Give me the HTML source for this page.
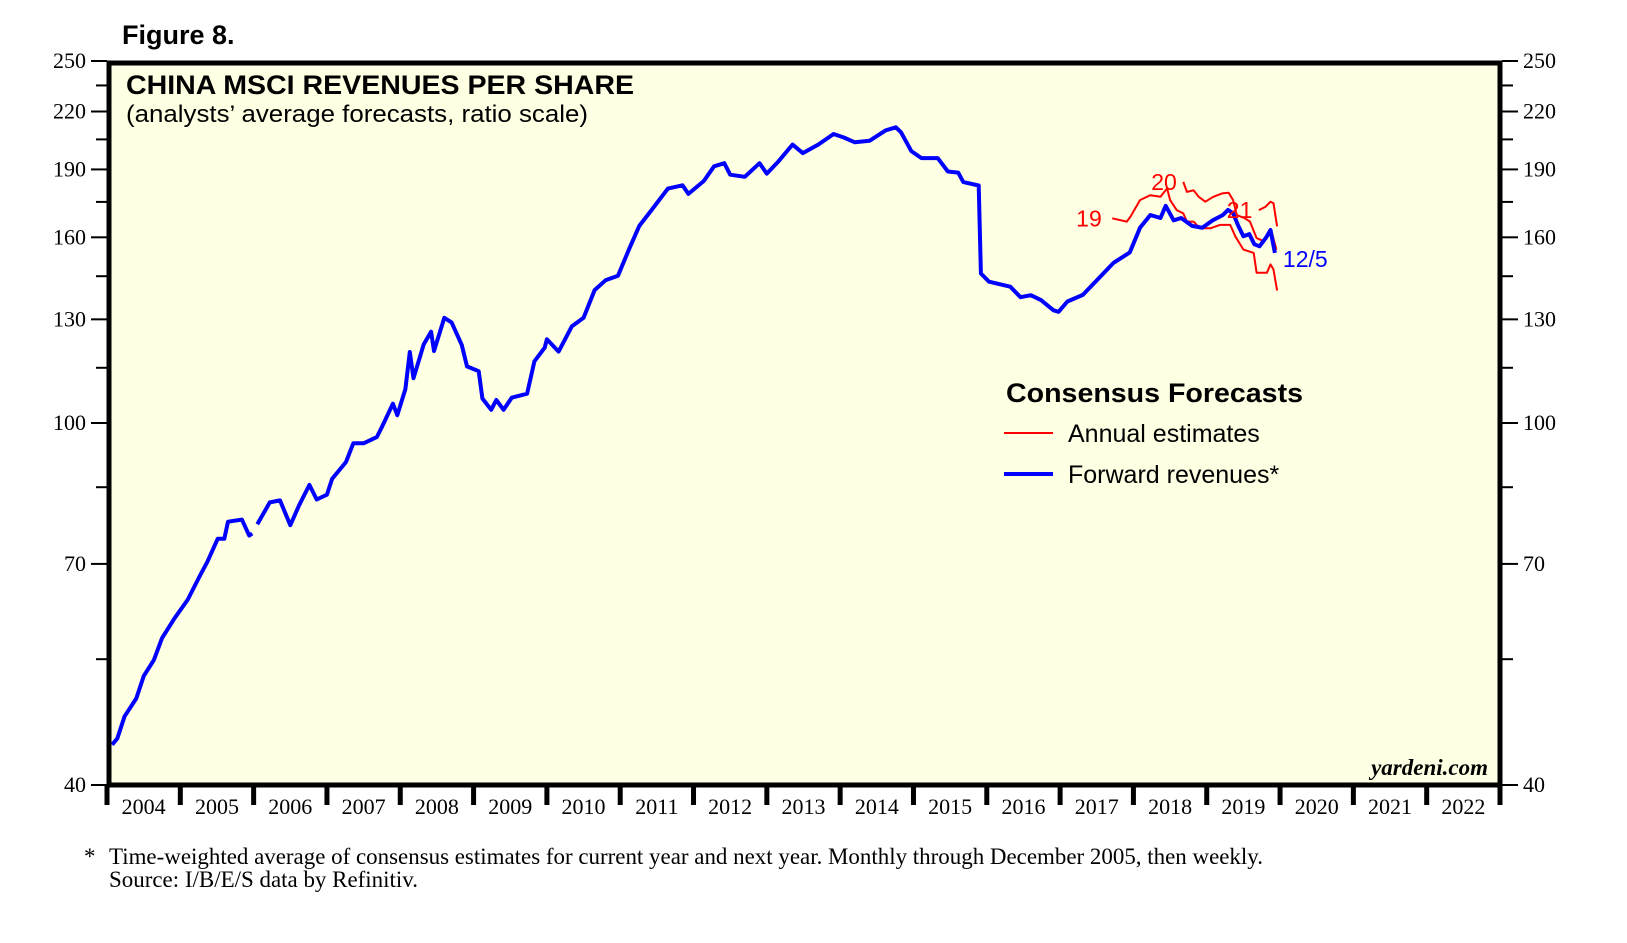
<!DOCTYPE html>
<html><head><meta charset="utf-8"><style>
html,body{margin:0;padding:0;background:#fff;}
svg{display:block;}
</style></head><body>
<svg id="chart" width="1627" height="943" xmlns="http://www.w3.org/2000/svg" font-family="Liberation Sans, sans-serif">
<text x="122" y="44" font-size="27" font-weight="bold">Figure 8.</text>
<rect x="109" y="63" width="1391" height="722" fill="#ffffe3"/>
<g id="grid"></g>
<g id="series"></g>
<rect x="109" y="63" width="1391" height="722" fill="none" stroke="#000" stroke-width="5"/>
<text x="126" y="94" font-size="27" font-weight="bold" textLength="508" lengthAdjust="spacingAndGlyphs">CHINA MSCI REVENUES PER SHARE</text>
<text x="126" y="122" font-size="24" textLength="462" lengthAdjust="spacingAndGlyphs">(analysts’ average forecasts, ratio scale)</text>
<g>
<text x="1006" y="402" font-size="27" font-weight="bold" textLength="297" lengthAdjust="spacingAndGlyphs">Consensus Forecasts</text>
<line x1="1004" y1="433" x2="1053" y2="433" stroke="#f00" stroke-width="2"/>
<text x="1068" y="442" font-size="25">Annual estimates</text>
<line x1="1004" y1="474" x2="1053" y2="474" stroke="#00f" stroke-width="4"/>
<text x="1068" y="483" font-size="25">Forward revenues*</text>
</g>
<text x="1488" y="775" font-size="23" font-style="italic" font-weight="bold" font-family="Liberation Serif, serif" text-anchor="end">yardeni.com</text>
<g font-family="Liberation Serif, serif" font-size="23">
<text x="84" y="864">*</text>
<text x="109" y="864" textLength="1154" lengthAdjust="spacingAndGlyphs">Time-weighted average of consensus estimates for current year and next year. Monthly through December 2005, then weekly.</text>
<text x="109" y="887" textLength="309" lengthAdjust="spacingAndGlyphs">Source: I/B/E/S data by Refinitiv.</text>
</g>
</svg>
<script>
const yTicksMajor=[250,220,190,160,130,100,70,40];
const yTicksMinor=[235,205,175,145,115,85,55];
const years=[2004,2005,2006,2007,2008,2009,2010,2011,2012,2013,2014,2015,2016,2017,2018,2019,2020,2021,2022];
const blueA=[[2004.07,44.3],[2004.14,45],[2004.24,47.6],[2004.4,49.8],[2004.5,52.7],[2004.64,54.9],[2004.75,58],[2004.92,61],[2005.1,63.9],[2005.27,68],[2005.37,70.4],[2005.51,74.6],[2005.6,74.6],[2005.65,77.9],[2005.84,78.3],[2005.94,75.2],[2005.98,75.6]];
const blueB=[[2006.05,77.4],[2006.22,81.8],[2006.36,82.2],[2006.5,77.2],[2006.62,81.2],[2006.76,85.5],[2006.86,82.4],[2007.0,83.4],[2007.07,86.8],[2007.26,90.6],[2007.36,95],[2007.5,95],[2007.68,96.5],[2007.75,99],[2007.9,105],[2007.96,102],[2008.07,109],[2008.13,119.7],[2008.18,112],[2008.32,122],[2008.42,126],[2008.46,120],[2008.6,130.5],[2008.7,129],[2008.84,121.8],[2008.91,115.4],[2009.07,114],[2009.12,106.4],[2009.24,103.4],[2009.31,106],[2009.41,103.4],[2009.52,106.6],[2009.73,107.7],[2009.83,116.9],[2009.97,121],[2010.0,123.6],[2010.16,119.8],[2010.34,127.7],[2010.5,130.5],[2010.65,140],[2010.8,143.5],[2010.97,145.2],[2011.12,155.2],[2011.26,164.7],[2011.43,171.5],[2011.65,181],[2011.85,182.5],[2011.93,178.6],[2012.14,184.5],[2012.28,191.5],[2012.42,193],[2012.5,187.5],[2012.7,186.5],[2012.9,193],[2013.0,188],[2013.16,194],[2013.35,202.3],[2013.49,198],[2013.7,202.3],[2013.91,207.8],[2014.05,206],[2014.2,203.5],[2014.4,204.3],[2014.62,209.7],[2014.76,211.4],[2014.83,208.7],[2014.97,199],[2015.11,195.5],[2015.33,195.5],[2015.47,189],[2015.61,188.5],[2015.68,184],[2015.89,182.4],[2015.92,146],[2016.03,143],[2016.32,141.2],[2016.46,137.5],[2016.6,138.2],[2016.74,136.5],[2016.91,133],[2016.98,132.5],[2017.1,136],[2017.31,138.3],[2017.52,144],[2017.73,150],[2017.95,154],[2018.09,163.9],[2018.23,169.3],[2018.37,168],[2018.44,173.3],[2018.55,167],[2018.65,168],[2018.8,164.7],[2018.94,163.9],[2019.08,167],[2019.22,169.3],[2019.29,171.5],[2019.36,170],[2019.43,164.7],[2019.5,160.4],[2019.58,161.3],[2019.65,157.2],[2019.72,156.4],[2019.81,159.9],[2019.87,163],[2019.93,153.8]];
const est2019=[[2017.71,167.9],[2017.91,166.5],[2017.96,168.6],[2018.09,175.8],[2018.23,178],[2018.37,177.3],[2018.46,181.1],[2018.5,175.8],[2018.59,171.4],[2018.68,170],[2018.73,166.5],[2018.82,166.5],[2018.91,163.7],[2019.05,163.7],[2019.18,165.1],[2019.32,165.1],[2019.39,160.4],[2019.5,155.1],[2019.64,153.8],[2019.68,146.3],[2019.82,146.3],[2019.87,149.4],[2019.91,147.5],[2019.96,139.8]];
const est2020=[[2018.68,184.1],[2018.73,179.5],[2018.82,180.2],[2018.89,177.3],[2018.98,175.1],[2019.09,177.3],[2019.21,178.8],[2019.3,179.1],[2019.36,175.8],[2019.41,169.3],[2019.52,167.9],[2019.59,166.5],[2019.68,159.7],[2019.78,158.4],[2019.84,161],[2019.89,161.7],[2019.95,155.1]];
const est2021=[[2019.71,171.4],[2019.8,172.8],[2019.87,175.1],[2019.91,174.4],[2019.96,164.5]];

const X0=107,X1=1500,Y0=785,Y1=61;
function xs(t){return X0+(t-2004)/19*(X1-X0);}
function ys(v){return Y0-Math.log(v/40)/Math.log(250/40)*(Y0-Y1);}
const NS="http://www.w3.org/2000/svg";
const grid=document.getElementById('grid'),ser=document.getElementById('series');
function mk(tag,attrs,parent){const e=document.createElementNS(NS,tag);for(const k in attrs)e.setAttribute(k,attrs[k]);parent.appendChild(e);return e;}
yTicksMajor.forEach(v=>{const y=ys(v);
 let l=mk('line',{x1:91,x2:107,y1:y,y2:y,stroke:'#000','stroke-width':2},grid);
 
 
 let r=mk('line',{x1:1502,x2:1518,y1:y,y2:y,stroke:'#000','stroke-width':2},grid);
 
 
 let t=mk('text',{x:86,y:y+7,'text-anchor':'end','font-size':22,'font-family':'Liberation Serif, serif'},grid);t.textContent=v;
 
 
 let t2=mk('text',{x:1523,y:y+7,'font-size':22,'font-family':'Liberation Serif, serif'},grid);t2.textContent=v;
 
 
});
yTicksMinor.forEach(v=>{const y=ys(v);
 let l=mk('line',{x1:96,x2:107,y1:y,y2:y,stroke:'#000','stroke-width':2},grid);
 
 
 let r=mk('line',{x1:1502,x2:1513,y1:y,y2:y,stroke:'#000','stroke-width':2},grid);
 
 
});
years.concat([2023]).forEach(yr=>{const x=xs(yr);
 let l=mk('line',{x1:x,x2:x,y1:785,y2:805,stroke:'#000','stroke-width':5},grid);
 
 
});
years.forEach(yr=>{const x=xs(yr+0.5);
 let t=mk('text',{x:x,y:814,'text-anchor':'middle','font-size':22,'font-family':'Liberation Serif, serif'},grid);t.textContent=yr;
 
 
});
function path(d){return d.map((p,i)=>(i?'L':'M')+xs(p[0]).toFixed(1)+','+ys(p[1]).toFixed(1)).join('');}
[[est2019,'annual-estimate-2019'],[est2020,'annual-estimate-2020'],[est2021,'annual-estimate-2021']].forEach(([d,n])=>{
 let p=mk('path',{d:path(d),fill:'none',stroke:'#f00','stroke-width':2,'stroke-linejoin':'round'},ser);
 
 
});
[blueA,blueB].forEach(d=>{
 let p=mk('path',{d:path(d),fill:'none',stroke:'#00f','stroke-width':4,'stroke-linejoin':'round'},ser);
 
 
});
const lbls=[['19',est2019[0],-36,8,'#f00'],['20',est2020[0],-32,8,'#f00'],['21',est2021[0],-32,8,'#f00'],['12/5',blueB[blueB.length-1],8,14,'#00f']];
lbls.forEach(([s,p,dx,dy,c])=>{
 let t=mk('text',{x:xs(p[0])+dx,y:ys(p[1])+dy,'font-size':23,fill:c},ser);t.textContent=s;
 
 
});
</script>
</body></html>
